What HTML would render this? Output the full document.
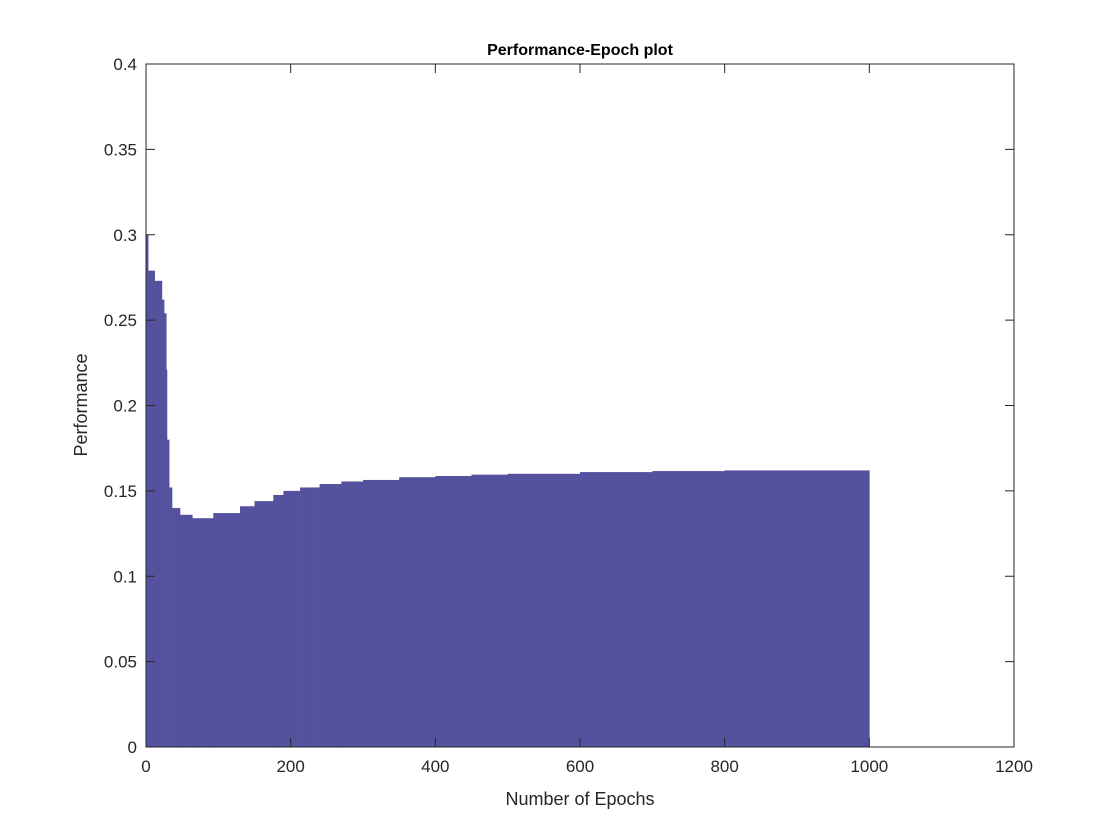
<!DOCTYPE html>
<html><head><meta charset="utf-8"><style>
body{margin:0;background:#fff}
svg{display:block;font-family:"Liberation Sans",Arial,sans-serif}
</style></head><body>
<svg id="chart" width="1120" height="840">
<rect width="1120" height="840" fill="#fff"/>
<g id="bars"></g>
<g id="axes"></g>
<text x="580" y="55" text-anchor="middle" font-size="16" font-weight="bold">Performance-Epoch plot</text>
<text x="580" y="805" text-anchor="middle" font-size="18" fill="#262626">Number of Epochs</text>
<text transform="translate(87,405) rotate(-90)" text-anchor="middle" font-size="18" fill="#262626">Performance</text>
</svg>
<script>
const epochs=[0,3,12,22,25,28,29,32,36,47,64,93,130,150,176,190,213,240,270,300,350,400,450,500,600,700,800,1000];
const perf=[0.30,0.279,0.273,0.262,0.254,0.221,0.18,0.152,0.14,0.136,0.134,0.137,0.141,0.144,0.1476,0.150,0.152,0.154,0.1555,0.1564,0.158,0.1587,0.1595,0.160,0.161,0.1616,0.162,0.1622];
const xTicks=[0,200,400,600,800,1000,1200];
const yTicks=[0,0.05,0.1,0.15,0.2,0.25,0.3,0.35,0.4];
const yTickLabels=["0","0.05","0.1","0.15","0.2","0.25","0.3","0.35","0.4"];
const L=146,R=1014,T=64,B=747;
const xs=v=>L+(v/1200)*(R-L);
const ys=v=>B-(v/0.4)*(B-T);
const NS="http://www.w3.org/2000/svg";
const bars=document.getElementById('bars');
for(let i=0;i<epochs.length-1;i++){
  const r=document.createElementNS(NS,'rect');
  const x0=xs(epochs[i]),x1=xs(epochs[i+1]);
  r.setAttribute('x',x0);r.setAttribute('width',Math.max(x1-x0,0.5)+0.3);
  r.setAttribute('y',ys(perf[i]));r.setAttribute('height',B-ys(perf[i]));
  r.setAttribute('fill','#54519e');
  
  
  bars.appendChild(r);
}
const ax=document.getElementById('axes');
function line(x1,y1,x2,y2){const l=document.createElementNS(NS,'line');l.setAttribute('x1',x1);l.setAttribute('y1',y1);l.setAttribute('x2',x2);l.setAttribute('y2',y2);l.setAttribute('stroke','#262626');l.setAttribute('stroke-width','1');ax.appendChild(l);return l;}
const box=document.createElementNS(NS,'rect');
box.setAttribute('x',L);box.setAttribute('y',T);box.setAttribute('width',R-L);box.setAttribute('height',B-T);
box.setAttribute('fill','none');box.setAttribute('stroke','#262626');


ax.appendChild(box);
xTicks.forEach(t=>{
  const x=xs(t);line(x,B,x,B-9);line(x,T,x,T+9);
  const tx=document.createElementNS(NS,'text');
  tx.setAttribute('x',x);tx.setAttribute('y',B+25);tx.setAttribute('text-anchor','middle');tx.setAttribute('font-size','17');tx.setAttribute('fill','#262626');
  tx.textContent=t;
  
  
  ax.appendChild(tx);
});
yTicks.forEach((t,i)=>{
  const y=ys(t);line(L,y,L+9,y);line(R,y,R-9,y);
  const tx=document.createElementNS(NS,'text');
  tx.setAttribute('x',L-9);tx.setAttribute('y',y+6);tx.setAttribute('text-anchor','end');tx.setAttribute('font-size','17');tx.setAttribute('fill','#262626');
  tx.textContent=yTickLabels[i];
  
  
  ax.appendChild(tx);
});
</script>
</body></html>
